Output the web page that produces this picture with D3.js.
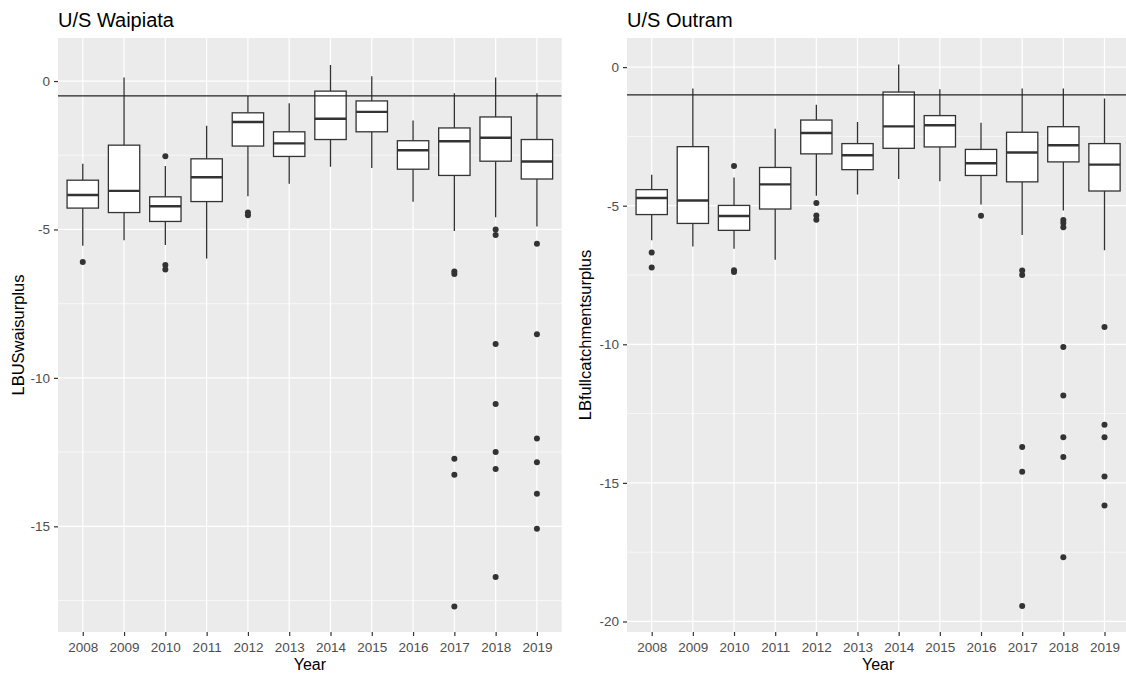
<!DOCTYPE html>
<html>
<head>
<meta charset="utf-8">
<script src="https://cdn.jsdelivr.net/npm/d3@7"></script>
<style>
  html, body { margin: 0; padding: 0; background: #fff; }
  svg { display: block; font-family: "Liberation Sans", Arial, sans-serif; }
</style>
</head>
<body>
<svg id="chart" width="1126" height="674"></svg>
<script>
// ---------- Data ----------
const years = ["2008","2009","2010","2011","2012","2013","2014","2015","2016","2017","2018","2019"];

// U/S Waipiata (LBUSwaisurplus)
const waiLow  = [-5.55, -5.36, -5.52, -5.98, -3.88, -3.46, -2.89, -2.93, -4.07, -5.05, -4.59, -4.90];
const waiQ1   = [-4.28, -4.43, -4.73, -4.06, -2.19, -2.54, -1.97, -1.71, -2.97, -3.18, -2.70, -3.30];
const waiMed  = [-3.84, -3.70, -4.22, -3.24, -1.38, -2.10, -1.27, -1.04, -2.33, -2.03, -1.91, -2.71];
const waiQ3   = [-3.34, -2.16, -3.90, -2.62, -1.07, -1.71, -0.34, -0.67, -2.01, -1.58, -1.21, -1.97];
const waiHigh = [-2.79,  0.12, -2.86, -1.51, -0.50, -0.75,  0.54,  0.16, -1.33, -0.41,  0.12, -0.41];
const waiOut  = [
  [-6.10],
  [],
  [-2.53, -6.20, -6.35],
  [],
  [-4.43, -4.52],
  [],
  [],
  [],
  [],
  [-6.42, -6.50, -12.72, -13.26, -17.70],
  [-5.00, -5.19, -8.86, -10.88, -12.50, -13.07, -16.71],
  [-5.48, -8.53, -12.04, -12.84, -13.90, -15.08]
];
const waiRef = -0.5;
const waiTicks = [0, -5, -10, -15];
const waiMinor = [-2.5, -7.5, -12.5, -17.5];

// U/S Outram (LBfullcatchmentsurplus)
const outLow  = [-6.25, -6.47, -6.55, -6.95, -4.64, -4.60, -4.04, -4.12, -4.96, -6.06, -5.17, -6.61];
const outQ1   = [-5.32, -5.64, -5.89, -5.12, -3.13, -3.70, -2.93, -2.88, -3.91, -4.14, -3.42, -4.47];
const outMed  = [-4.72, -4.81, -5.37, -4.23, -2.38, -3.18, -2.14, -2.10, -3.47, -3.08, -2.82, -3.52];
const outQ3   = [-4.42, -2.87, -4.99, -3.62, -1.91, -2.76, -0.90, -1.75, -2.97, -2.35, -2.15, -2.76];
const outHigh = [-3.88, -0.77, -3.98, -2.22, -1.36, -1.98,  0.09, -0.80, -2.01, -0.77, -0.77, -1.13];
const outOut  = [
  [-6.69, -7.23],
  [],
  [-3.57, -7.33, -7.39],
  [],
  [-4.90, -5.35, -5.51],
  [],
  [],
  [],
  [-5.36],
  [-7.34, -7.50, -13.71, -14.60, -19.44],
  [-5.52, -5.62, -5.78, -10.10, -11.85, -13.35, -14.07, -17.68],
  [-9.38, -12.90, -13.35, -14.77, -15.82]
];
const outRef = -1.0;
const outTicks = [0, -5, -10, -15, -20];
const outMinor = [-2.5, -7.5, -12.5, -17.5];

// ---------- Drawing ----------
const svg = d3.select("#chart");
const INK = "#333333";

function panel(opt) {
  const { x0, x1, y0, y1, domain, title, ytitle, ytitleX,
          low, q1, med, q3, high, outs, ref, ticks, minor } = opt;
  const g = svg.append("g");

  const x = d3.scalePoint().domain(years).range([x0, x1]).padding(0.6);
  const y = d3.scaleLinear().domain(domain).range([y1, y0]);
  const step = x.step();
  const bw = step * 0.76;

  const clipId = "clip" + Math.round(x0);
  svg.append("clipPath").attr("id", clipId)
    .append("rect").attr("x", x0).attr("y", y0).attr("width", x1 - x0).attr("height", y1 - y0);

  // background
  g.append("rect").attr("x", x0).attr("y", y0).attr("width", x1 - x0).attr("height", y1 - y0)
    .attr("fill", "#EBEBEB");

  // minor grid
  g.selectAll(".minor").data(minor).join("line")
    .attr("x1", x0).attr("x2", x1)
    .attr("y1", d => y(d)).attr("y2", d => y(d))
    .attr("stroke", "#fff").attr("stroke-width", 0.6);
  // major grid
  g.selectAll(".majorY").data(ticks).join("line")
    .attr("x1", x0).attr("x2", x1)
    .attr("y1", d => y(d)).attr("y2", d => y(d))
    .attr("stroke", "#fff").attr("stroke-width", 1.2);
  g.selectAll(".majorX").data(years).join("line")
    .attr("x1", d => x(d)).attr("x2", d => x(d))
    .attr("y1", y0).attr("y2", y1)
    .attr("stroke", "#fff").attr("stroke-width", 1.2);

  const data = years.map((yr, i) => ({ yr, low: low[i], q1: q1[i], med: med[i], q3: q3[i], high: high[i], outs: outs[i] }));
  const marks = g.append("g").attr("clip-path", `url(#${clipId})`);

  // whiskers
  marks.selectAll(".wl").data(data).join("line")
    .attr("x1", d => x(d.yr)).attr("x2", d => x(d.yr))
    .attr("y1", d => y(d.high)).attr("y2", d => y(d.q3))
    .attr("stroke", INK).attr("stroke-width", 1.3);
  marks.selectAll(".wh").data(data).join("line")
    .attr("x1", d => x(d.yr)).attr("x2", d => x(d.yr))
    .attr("y1", d => y(d.q1)).attr("y2", d => y(d.low))
    .attr("stroke", INK).attr("stroke-width", 1.3);
  // boxes
  marks.selectAll(".box").data(data).join("rect")
    .attr("x", d => x(d.yr) - bw / 2).attr("width", bw)
    .attr("y", d => y(d.q3)).attr("height", d => y(d.q1) - y(d.q3))
    .attr("fill", "#fff").attr("stroke", INK).attr("stroke-width", 1.3);
  // medians
  marks.selectAll(".med").data(data).join("line")
    .attr("x1", d => x(d.yr) - bw / 2).attr("x2", d => x(d.yr) + bw / 2)
    .attr("y1", d => y(d.med)).attr("y2", d => y(d.med))
    .attr("stroke", INK).attr("stroke-width", 2.4);
  // outliers
  const pts = data.flatMap(d => d.outs.map(v => ({ yr: d.yr, v })));
  marks.selectAll(".out").data(pts).join("circle")
    .attr("cx", d => x(d.yr)).attr("cy", d => y(d.v)).attr("r", 3)
    .attr("fill", INK);

  // reference line
  marks.append("line")
    .attr("x1", x0).attr("x2", x1)
    .attr("y1", y(ref)).attr("y2", y(ref))
    .attr("stroke", "#222").attr("stroke-width", 1.2);

  // axes
  const ax = g.append("g").attr("transform", `translate(0,${y1})`)
    .call(d3.axisBottom(x).tickSize(4).tickPadding(6.5));
  const ay = g.append("g").attr("transform", `translate(${x0},0)`)
    .call(d3.axisLeft(y).tickValues(ticks).tickFormat(d3.format("d")).tickSize(4).tickPadding(4));
  [ax, ay].forEach(a => {
    a.select(".domain").remove();
    a.selectAll(".tick line").attr("stroke", INK).attr("stroke-width", 1.2);
    a.selectAll(".tick text").attr("fill", "#4D4D4D").style("font-size", "13.5px")
      .style("font-family", '"Liberation Sans", Arial, sans-serif');
  });
  ay.selectAll(".tick text").text(d => d === 0 ? "0" : "-" + Math.abs(d));

  // titles
  g.append("text").attr("x", x0).attr("y", 26.5).text(title)
    .attr("fill", "#000").style("font-size", "20px");
  g.append("text")
    .attr("x", (x(years[0]) + x(years[years.length - 1])) / 2)
    .attr("y", 670).attr("text-anchor", "middle").text("Year")
    .attr("fill", "#000").style("font-size", "16px");
  g.append("text")
    .attr("transform", `translate(${ytitleX},${(y0 + y1) / 2}) rotate(-90)`)
    .attr("text-anchor", "middle").text(ytitle)
    .attr("fill", "#000").style("font-size", "16.5px");
}

panel({
  x0: 58, x1: 561.7, y0: 38, y1: 632, domain: [-18.56, 1.45],
  title: "U/S Waipiata", ytitle: "LBUSwaisurplus", ytitleX: 24,
  low: waiLow, q1: waiQ1, med: waiMed, q3: waiQ3, high: waiHigh, outs: waiOut,
  ref: waiRef, ticks: waiTicks, minor: waiMinor
});
panel({
  x0: 627, x1: 1129.2, y0: 38, y1: 632, domain: [-20.38, 1.05],
  title: "U/S Outram", ytitle: "LBfullcatchmentsurplus", ytitleX: 591,
  low: outLow, q1: outQ1, med: outMed, q3: outQ3, high: outHigh, outs: outOut,
  ref: outRef, ticks: outTicks, minor: outMinor
});
</script>
</body>
</html>
